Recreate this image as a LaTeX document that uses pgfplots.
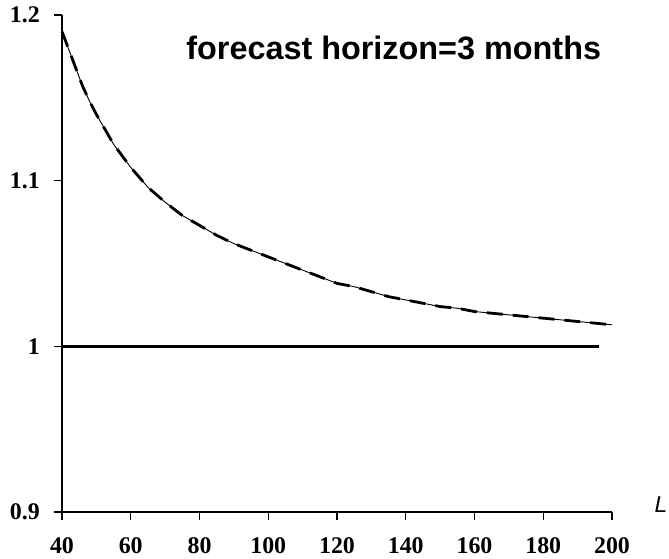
\documentclass[border=0pt]{standalone}
\usepackage{fontspec}
\setmainfont{Liberation Serif}
\newfontfamily\arial{Liberation Sans}
\usepackage{pgfplots}
\pgfplotsset{compat=1.18}
\begin{document}
\begin{tikzpicture}
\useasboundingbox (-62bp,-47bp) rectangle (607bp,512bp);
\begin{axis}[
  scale only axis, width=550bp, height=497bp,
  xmin=40, xmax=200, ymin=0.9, ymax=1.2,
  axis lines=left, axis line style={-, line width=1.2bp},
  xtick={40,60,...,200}, ytick={0.9,1,1.1,1.2},
  tick align=outside, tick style={line width=1.2bp, black},
  major tick length=8bp,
  /pgf/number format/assume math mode=true,
  ticklabel style={font=\fontsize{24}{24}\selectfont\bfseries, inner sep=1bp},
  xticklabel style={yshift=-16bp},
  yticklabel style={xshift=-13bp},
  clip=false,
]
\addplot[black, line width=0.9bp] coordinates {
(40,1.190)(42,1.179)(44,1.168)(46,1.157)(48,1.148)(50,1.140)(55,1.122)(60,1.108)(65,1.096)(70,1.087)(75,1.079)(80,1.073)(85,1.067)(90,1.062)(95,1.058)(100,1.054)(105,1.050)(110,1.046)(115,1.042)(120,1.038)(125,1.036)(130,1.033)(135,1.030)(140,1.028)(145,1.026)(150,1.024)(155,1.023)(160,1.021)(165,1.020)(170,1.019)(175,1.018)(180,1.017)(185,1.016)(190,1.015)(195,1.014)(200,1.013)};
\addplot[black, line width=2.8bp, dash pattern=on 16bp off 10bp] coordinates {
(40,1.190)(42,1.179)(44,1.168)(46,1.157)(48,1.148)(50,1.140)(55,1.122)(60,1.108)(65,1.096)(70,1.087)(75,1.079)(80,1.073)(85,1.067)(90,1.062)(95,1.058)(100,1.054)(105,1.050)(110,1.046)(115,1.042)(120,1.038)(125,1.036)(130,1.033)(135,1.030)(140,1.028)(145,1.026)(150,1.024)(155,1.023)(160,1.021)(165,1.020)(170,1.019)(175,1.018)(180,1.017)(185,1.016)(190,1.015)(195,1.014)(200,1.013)};
\addplot[black, line width=2.6bp] coordinates {(40,1)(196.2,1)};
\node[font=\arial\bfseries\fontsize{32.5}{32.5}\selectfont] at (axis cs:136.5,1.180) {forecast horizon=3 months};
\node[font=\arial\itshape\fontsize{23}{23}\selectfont, anchor=center] at ([xshift=49bp,yshift=7bp]axis cs:200,0.9) {L};
\end{axis}
\end{tikzpicture}
\end{document}
